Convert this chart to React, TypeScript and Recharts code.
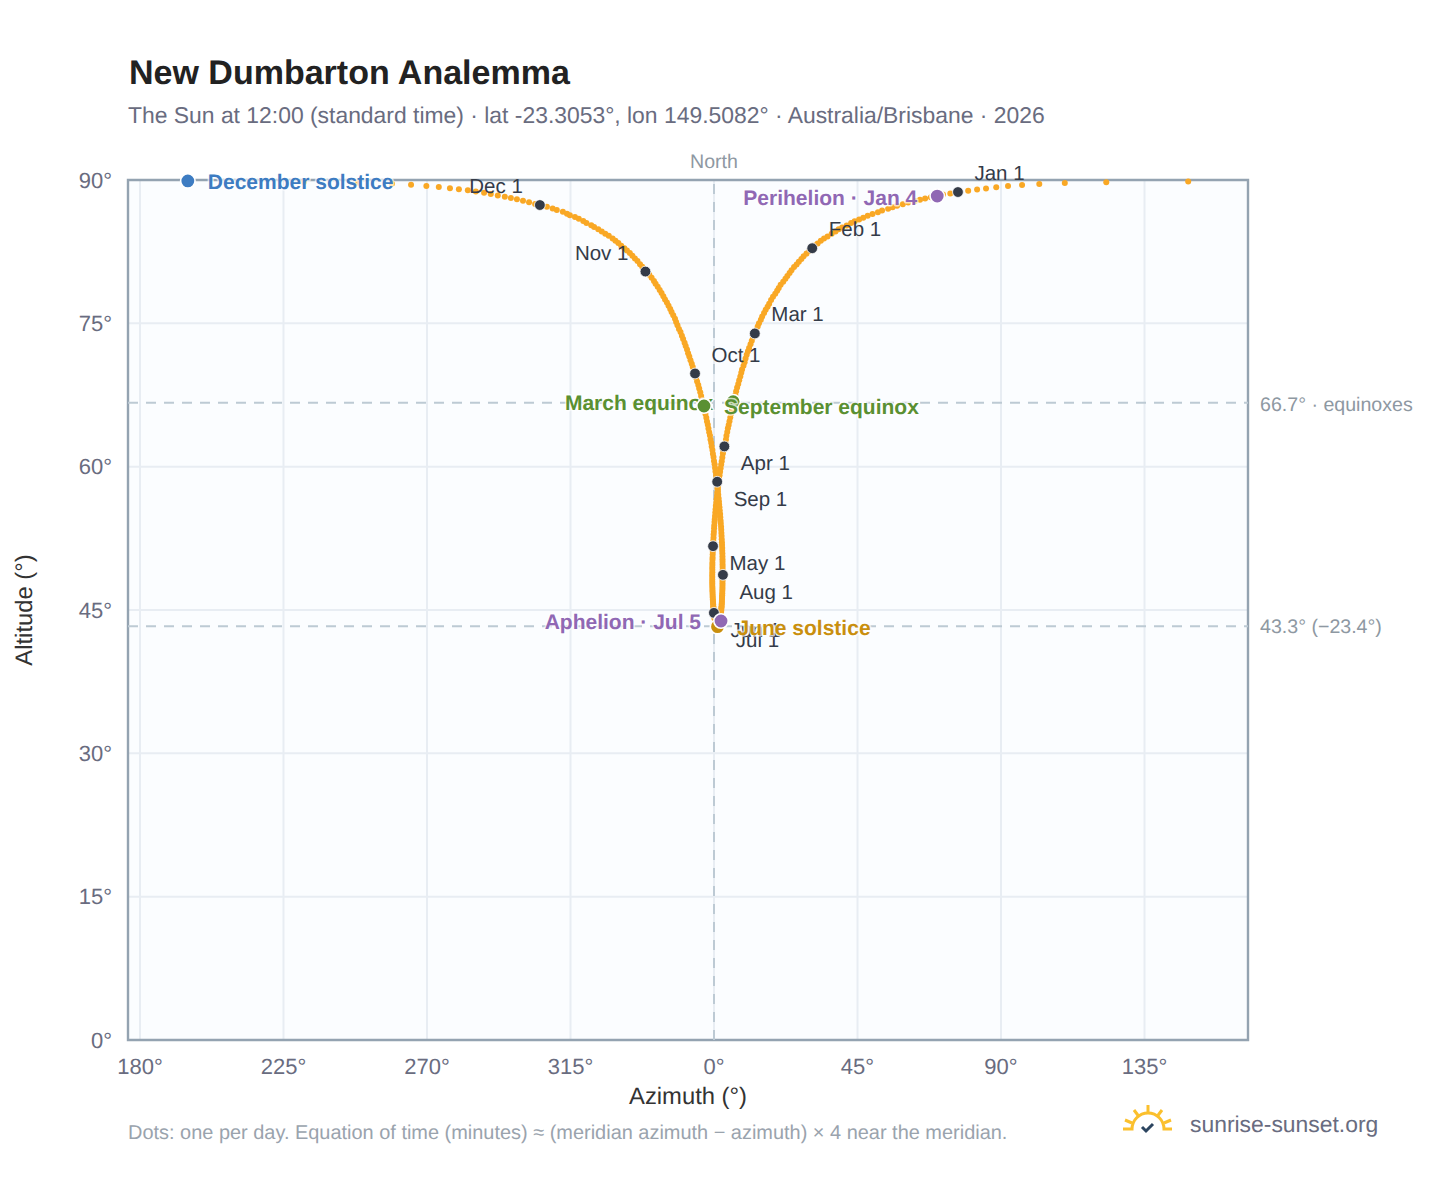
import React from 'react';
import { ScatterChart, Scatter, XAxis, YAxis, CartesianGrid, ReferenceLine, ReferenceArea } from 'recharts';

// [azimuth relative to north, altitude] read per day, month by month
const sunJan = [[76.5,88.74],[74.1,88.6],[71.8,88.47],[70,88.32],[68,88.2],[66.2,88.07],[64.6,87.93],[63,87.8],[60.9,87.64],[59.2,87.46],[57.4,87.31],[56,87.14],[54.6,86.98],[52.7,86.8],[51.4,86.63],[49.7,86.45],[48.2,86.25],[46.8,86.05],[45.5,85.86],[44.1,85.69],[43,85.49],[41.6,85.25],[40.2,85.03],[39.1,84.85],[38.1,84.6],[36.9,84.37],[35.6,84.1],[34.5,83.88],[33.5,83.64],[32.5,83.36],[31.6,83.14]];
const sunFeb = [[30.8,82.86],[29.9,82.57],[29,82.3],[28.1,82.02],[27.4,81.73],[26.6,81.44],[25.9,81.16],[25.1,80.89],[24.3,80.56],[23.7,80.28],[23,79.95],[22.4,79.67],[21.7,79.34],[20.9,79.03],[20.3,78.69],[19.8,78.41],[19.2,78.09],[18.5,77.77],[17.9,77.44],[17.3,77.06],[16.8,76.74],[16.2,76.41],[15.7,76.08],[15.1,75.71],[14.7,75.37],[14.1,75],[13.7,74.66],[13.2,74.28]];
const sunMar = [[12.8,73.94],[12.3,73.57],[11.85,73.19],[11.45,72.81],[11,72.43],[10.65,72.09],[10.25,71.71],[9.9,71.32],[9.6,70.93],[9.25,70.55],[8.8,70.17],[8.55,69.83],[8.25,69.44],[7.9,69.05],[7.6,68.66],[7.25,68.28],[6.95,67.89],[6.7,67.5],[6.4,67.11],[6.1,66.72],[5.8,66.33],[5.6,65.93],[5.35,65.54],[5.1,65.15],[4.85,64.76],[4.6,64.37],[4.35,64.02],[4.15,63.63],[3.9,63.24],[3.75,62.84],[3.55,62.45]];
const sunApr = [[3.25,62.12],[2.98,61.71],[2.78,61.37],[2.6,60.97],[2.42,60.57],[2.25,60.23],[2.07,59.83],[1.91,59.48],[1.74,59.09],[1.59,58.74],[1.43,58.39],[1.29,57.99],[1.19,57.64],[1.03,57.29],[0.94,56.95],[0.81,56.6],[0.71,56.25],[0.57,55.9],[0.48,55.55],[0.4,55.2],[0.32,54.85],[0.24,54.5],[0.16,54.2],[0.08,53.85],[0.03,53.55],[-0.04,53.2],[-0.12,52.9],[-0.15,52.55],[-0.22,52.25],[-0.25,51.95]];
const sunMay = [[-0.3,51.68],[-0.36,51.35],[-0.39,51.1],[-0.42,50.8],[-0.45,50.5],[-0.48,50.25],[-0.51,49.95],[-0.51,49.7],[-0.54,49.45],[-0.53,49.2],[-0.53,48.95],[-0.56,48.7],[-0.55,48.45],[-0.55,48.2],[-0.55,47.95],[-0.54,47.75],[-0.54,47.5],[-0.5,47.3],[-0.5,47.1],[-0.47,46.9],[-0.44,46.7],[-0.43,46.5],[-0.4,46.3],[-0.37,46.1],[-0.34,45.95],[-0.3,45.75],[-0.27,45.6],[-0.24,45.4],[-0.18,45.25],[-0.15,45.1],[-0.09,44.95]];
const sunJun = [[-0.03,44.7],[0,44.6],[0.06,44.45],[0.11,44.35],[0.17,44.2],[0.2,44.1],[0.26,44],[0.32,43.9],[0.37,43.8],[0.43,43.7],[0.49,43.65],[0.54,43.55],[0.6,43.5],[0.66,43.45],[0.72,43.4],[0.77,43.35],[0.86,43.32],[0.92,43.3],[0.97,43.28],[1.03,43.26],[1.09,43.26],[1.15,43.26],[1.2,43.28],[1.26,43.3],[1.32,43.32],[1.38,43.35],[1.43,43.4],[1.49,43.45],[1.55,43.5],[1.6,43.55]];
const sunJul = [[1.66,43.6],[1.73,43.7],[1.76,43.75],[1.81,43.85],[1.87,43.95],[1.94,44.05],[2,44.15],[2.03,44.25],[2.1,44.4],[2.13,44.5],[2.19,44.65],[2.23,44.8],[2.26,44.95],[2.3,45.1],[2.34,45.25],[2.38,45.4],[2.41,45.6],[2.46,45.75],[2.47,45.95],[2.51,46.15],[2.52,46.35],[2.56,46.55],[2.58,46.75],[2.6,47],[2.64,47.2],[2.64,47.4],[2.66,47.65],[2.65,47.85],[2.66,48.1],[2.68,48.3],[2.7,48.5]];
const sunAug = [[2.8,48.68],[2.72,48.95],[2.7,49.2],[2.7,49.5],[2.68,49.75],[2.67,50.05],[2.66,50.3],[2.64,50.6],[2.63,50.9],[2.58,51.2],[2.57,51.5],[2.52,51.8],[2.47,52.1],[2.42,52.4],[2.37,52.75],[2.32,53.05],[2.27,53.4],[2.22,53.7],[2.12,54.05],[2.07,54.35],[1.97,54.7],[1.92,55.05],[1.81,55.4],[1.71,55.75],[1.61,56.05],[1.55,56.35],[1.44,56.7],[1.33,57.05],[1.22,57.4],[1.1,57.75],[0.98,58.1]];
const sunSep = [[1,58.42],[0.78,58.75],[0.65,59.1],[0.47,59.5],[0.33,59.85],[0.19,60.25],[0,60.6],[-0.15,61],[-0.35,61.35],[-0.5,61.75],[-0.72,62.1],[-0.88,62.5],[-1.1,62.85],[-1.28,63.25],[-1.51,63.6],[-1.75,63.99],[-1.95,64.38],[-2.2,64.73],[-2.41,65.13],[-2.68,65.52],[-2.96,65.87],[-3.19,66.27],[-3.49,66.66],[-3.73,67],[-4.04,67.4],[-4.31,67.79],[-4.65,68.19],[-4.93,68.55],[-5.3,68.91],[-5.6,69.31]];
const sunOct = [[-5.95,69.75],[-6.24,70.03],[-6.66,70.42],[-6.98,70.76],[-7.37,71.14],[-7.75,71.53],[-8.12,71.87],[-8.46,72.26],[-8.88,72.64],[-9.23,72.98],[-9.69,73.36],[-10.07,73.7],[-10.5,74.08],[-10.99,74.41],[-11.46,74.8],[-11.88,75.13],[-12.24,75.47],[-12.78,75.85],[-13.3,76.18],[-13.73,76.51],[-14.26,76.84],[-14.77,77.18],[-15.36,77.5],[-15.89,77.84],[-16.45,78.17],[-17.03,78.5],[-17.66,78.82],[-18.32,79.15],[-18.83,79.43],[-19.57,79.76],[-20.3,80.08]];
const sunNov = [[-21.5,80.42],[-21.9,80.63],[-22.5,80.91],[-23.2,81.19],[-24,81.52],[-24.8,81.79],[-25.6,82.07],[-26.4,82.35],[-27.3,82.63],[-28.1,82.86],[-29.1,83.13],[-30,83.42],[-30.9,83.65],[-31.8,83.88],[-33,84.16],[-34.1,84.38],[-35.2,84.62],[-36.3,84.85],[-37.6,85.08],[-38.5,85.27],[-40,85.5],[-41,85.7],[-42.4,85.94],[-43.6,86.13],[-45.2,86.31],[-46.1,86.46],[-47.4,86.67],[-49.3,86.86],[-50.6,87.01],[-52.4,87.21]];
const sunDec = [[-54.6,87.38],[-56.1,87.5],[-58,87.67],[-59.9,87.83],[-61.8,87.98],[-63.7,88.12],[-65.6,88.26],[-67.8,88.39],[-70,88.54],[-72.1,88.66],[-74.7,88.79],[-77.2,88.92],[-80,89.02],[-82.8,89.14],[-86.3,89.26],[-90.2,89.38],[-95,89.49],[-101,89.61],[-111.7,89.7],[-128.6,89.8],[-165,89.85],[148.7,89.85],[123,89.77],[110,89.68],[102,89.58],[96.6,89.47],[92.2,89.36],[88.5,89.24],[85.3,89.12],[82.5,89],[79.7,88.88]];

const months = [sunJan, sunFeb, sunMar, sunApr, sunMay, sunJun, sunJul, sunAug, sunSep, sunOct, sunNov, sunDec];
const monthLabels = ['Jan 1', 'Feb 1', 'Mar 1', 'Apr 1', 'May 1', 'Jun 1', 'Jul 1', 'Aug 1', 'Sep 1', 'Oct 1', 'Nov 1', 'Dec 1'];

const eventNames = ['March equinox', 'June solstice', 'September equinox', 'December solstice', 'Perihelion · Jan 4', 'Aphelion · Jul 5'];
const eventAzimuths = [6, 1.1, -3.14, -165, 70, 2.2];
const eventAltitudes = [66.8, 43.26, 66.35, 89.9, 88.32, 43.85];
const eventColors = ['#5A9032', '#C98F0E', '#5A9032', '#3D7CC2', '#9068B4', '#9068B4'];
const eventSides = [-1, 1, 1, 1, -1, -1];

const azimuthTicks = [-180, -135, -90, -45, 0, 45, 90, 135];
const altitudeTicks = [0, 15, 30, 45, 60, 75, 90];

const days = months.flat().map(([az, alt]) => ({ az, alt }));
const firsts = months.map((m, i) => ({ az: m[0][0], alt: m[0][1], label: monthLabels[i], index: i }));
const events = eventNames.map((name, i) => ({ name, az: eventAzimuths[i], alt: eventAltitudes[i], color: eventColors[i], side: eventSides[i] }));

const FONT = '"Liberation Sans", Arial, sans-serif';
const halo = { paintOrder: 'stroke' as const, stroke: '#ffffff', strokeWidth: 3, strokeOpacity: 0.7, strokeLinejoin: 'round' as const };

const DayDot = (p: any) => <circle cx={p.cx} cy={p.cy} r={3} fill="#F9A825" />;

const FirstDot = (p: any) => {
  const i = p.payload.index;
  const left = i >= 10; // Nov, Dec labels go to the left
  const above = i < 3 || i >= 9;
  return (
    <g>
      <circle cx={p.cx} cy={p.cy} r={5.4} fill="#343B48" stroke="#fff" strokeWidth={0.8} />
      <text
        x={p.cx + (left ? -17 : 16.5)}
        y={p.cy + (above ? -18.5 : 17.5)}
        textAnchor={left ? 'end' : 'start'}
        dominantBaseline="central"
        fontSize={20.5}
        fontFamily={FONT}
        fill="#343B48"
      >
        {p.payload.label}
      </text>
    </g>
  );
};

const EventDot = (p: any) => {
  const { name, color, side } = p.payload;
  return (
    <g>
      <circle cx={p.cx} cy={p.cy} r={7.2} fill={color} stroke="#fff" strokeWidth={1.6} />
      <text
        x={p.cx + side * 20}
        y={p.cy + 2}
        textAnchor={side > 0 ? 'start' : 'end'}
        dominantBaseline="central"
        fontSize={21}
        fontWeight={700}
        fontFamily={FONT}
        fill={color}
        style={halo}
      >
        {name}
      </text>
    </g>
  );
};

const tickStyle = { fontSize: 22, fontFamily: FONT, fill: '#696C80' };
const noteStyle = { fontSize: 19.6, fontFamily: FONT, fill: '#8E98A2' };
const axisTitleStyle = { fontSize: 23.8, fontFamily: FONT, fill: '#333' };

export default function App() {
  return (
    <div style={{ position: 'absolute', left: 0, top: 0, width: 1448, height: 1188, background: '#fff', fontFamily: FONT, textRendering: 'geometricPrecision' }}>
      <div style={{ position: 'absolute', left: 129, top: 54, fontSize: 34, fontWeight: 700, color: '#222', whiteSpace: 'nowrap' }}>
        New Dumbarton Analemma
      </div>
      <div style={{ position: 'absolute', left: 128, top: 102, fontSize: 22.9, color: '#696C80', whiteSpace: 'nowrap' }}>
        The Sun at 12:00 (standard time) · lat -23.3053°, lon 149.5082° · Australia/Brisbane · 2026
      </div>
      <ScatterChart width={1448} height={1188} margin={{ top: 180, right: 200, bottom: 108, left: 68 }}>
        <CartesianGrid fill="#FBFDFF" stroke="#E8EDF3" strokeWidth={2} />
        <XAxis
          type="number"
          dataKey="az"
          domain={[-183.76, 167.45]}
          ticks={azimuthTicks}
          height={40}
          tickLine={false}
          axisLine={false}
          tick={tickStyle}
          tickMargin={12}
          interval={0}
          tickFormatter={(v: number) => `${(v + 360) % 360}°`}
          label={{ value: 'Azimuth (°)', position: 'insideBottom', offset: -24, style: axisTitleStyle }}
        />
        <YAxis
          type="number"
          dataKey="alt"
          domain={[0, 90]}
          ticks={altitudeTicks}
          width={60}
          tickLine={false}
          axisLine={false}
          tick={tickStyle}
          tickMargin={10}
          interval={0}
          tickFormatter={(v: number) => `${v}°`}
          label={{ value: 'Altitude (°)', angle: -90, position: 'insideLeft', offset: -44, style: { ...axisTitleStyle, textAnchor: 'middle' } }}
        />
        <ReferenceLine y={66.7} stroke="#BDCAD4" strokeWidth={2} strokeDasharray="10 8" label={{ value: '66.7° · equinoxes', position: 'right', offset: 12, dy: 1, style: noteStyle }} />
        <ReferenceLine y={43.3} stroke="#BDCAD4" strokeWidth={2} strokeDasharray="10 8" label={{ value: '43.3° (−23.4°)', position: 'right', offset: 12, style: noteStyle }} />
        <ReferenceLine x={0} stroke="#BDCAD4" strokeWidth={2} strokeDasharray="10 8" label={{ value: 'North', position: 'top', offset: 12, style: noteStyle }} />
        <ReferenceArea x1={-183.76} x2={167.45} y1={0} y2={90} fill="none" stroke="#94A3B1" strokeWidth={2.4} ifOverflow="visible" />
        <Scatter data={days} isAnimationActive={false} shape={DayDot} />
        <Scatter data={firsts} isAnimationActive={false} shape={FirstDot} />
        <Scatter data={events} isAnimationActive={false} shape={EventDot} />
      </ScatterChart>
      <div style={{ position: 'absolute', left: 128, top: 1122, fontSize: 19.95, color: '#9AA3AD', whiteSpace: 'nowrap' }}>
        Dots: one per day. Equation of time (minutes) ≈ (meridian azimuth − azimuth) × 4 near the meridian.
      </div>
      <svg style={{ position: 'absolute', left: 1118, top: 1100 }} width={60} height={36} viewBox="0 0 60 36">
        <path d="M5 29 H14 A16 16 0 0 1 46 29 H54" fill="none" stroke="#FBC02D" strokeWidth={3} />
        <path d="M30 5 V13 M16 10 L20.5 16 M44 10 L39.5 16 M7 20 L14 23 M53 20 L46 23" fill="none" stroke="#FBC02D" strokeWidth={3} />
        <path d="M24 27 L28 31 L35 24" fill="none" stroke="#2C4560" strokeWidth={3} />
      </svg>
      <div style={{ position: 'absolute', left: 1190, top: 1111, fontSize: 22.9, color: '#696C80', whiteSpace: 'nowrap' }}>
        sunrise-sunset.org
      </div>
    </div>
  );
}
